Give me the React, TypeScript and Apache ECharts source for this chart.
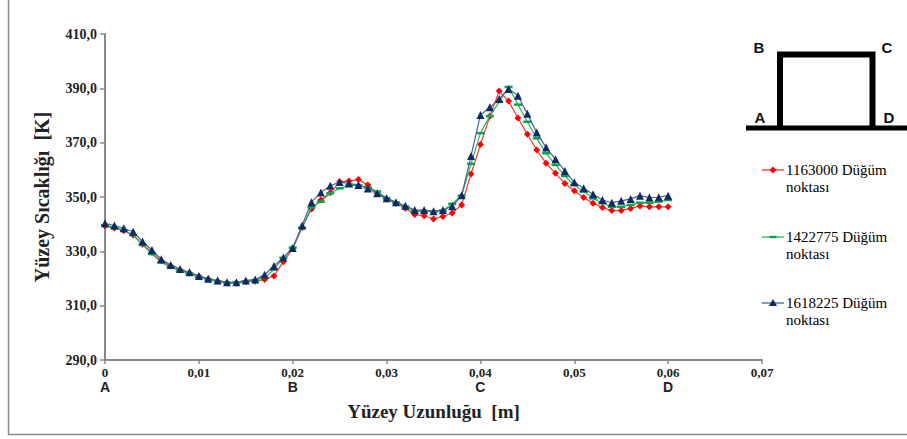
import React, { useEffect, useRef } from "react";
import * as echarts from "echarts";

const xs = [
  0, 0.001, 0.002, 0.003, 0.004, 0.005, 0.006, 0.007, 0.008, 0.009,
  0.01, 0.011, 0.012, 0.013, 0.014, 0.015, 0.016, 0.017, 0.018, 0.019,
  0.02, 0.021, 0.022, 0.023, 0.024, 0.025, 0.026, 0.027, 0.028, 0.029,
  0.03, 0.031, 0.032, 0.033, 0.034, 0.035, 0.036, 0.037, 0.038, 0.039,
  0.04, 0.041, 0.042, 0.043, 0.044, 0.045, 0.046, 0.047, 0.048, 0.049,
  0.05, 0.051, 0.052, 0.053, 0.054, 0.055, 0.056, 0.057, 0.058, 0.059,
  0.06,
];

const redValues = [
  339.3, 338.6, 337.6, 336.0, 332.6, 329.6, 326.4, 324.6, 323.1, 322.0,
  320.8, 319.8, 319.0, 318.3, 318.3, 318.8, 319.0, 319.6, 320.9, 326.2,
  331.0, 338.8, 345.6, 348.9, 351.6, 355.6, 355.9, 356.4, 354.4, 351.4,
  349.2, 347.7, 345.9, 343.6, 343.1, 341.9, 342.8, 344.1, 347.1, 358.5,
  369.3, 379.7, 389.0, 385.3, 379.1, 373.1, 367.3, 362.4, 358.7, 355.0,
  352.3, 349.8, 347.7, 346.1, 345.0, 345.0, 345.8, 346.7, 346.4, 346.4,
  346.4,
];

const greenValues = [
  339.6, 338.8, 337.8, 336.0, 332.4, 329.0, 325.9, 324.2, 322.9, 321.8,
  320.6, 319.6, 319.0, 318.5, 318.5, 319.0, 319.4, 320.3, 323.3, 327.6,
  331.4, 338.6, 346.2, 348.3, 351.4, 353.2, 354.2, 354.4, 353.5, 352.0,
  349.6, 348.0, 346.5, 344.8, 344.8, 344.6, 345.0, 347.5, 350.5, 362.2,
  373.5, 379.8, 385.0, 390.5, 384.0, 377.7, 371.6, 366.1, 361.8, 357.7,
  354.4, 352.0, 349.5, 347.7, 346.4, 346.4, 347.1, 347.9, 347.9, 348.3,
  348.9,
];

const blueValues = [
  340.3, 339.5, 338.5, 337.2, 333.6, 330.5, 327.1, 325.0, 323.5, 322.3,
  320.9, 319.9, 319.3, 318.6, 318.6, 319.3, 319.6, 321.4, 324.6, 327.7,
  331.2, 339.5, 348.1, 351.7, 354.1, 355.5, 355.0, 354.4, 353.1, 351.4,
  349.5, 348.1, 346.8, 345.2, 345.2, 344.8, 345.2, 346.6, 350.6, 365.1,
  380.2, 383.0, 386.1, 389.8, 387.3, 380.6, 373.7, 368.2, 363.9, 359.6,
  355.4, 353.2, 351.0, 348.9, 347.9, 348.6, 349.3, 350.5, 349.8, 349.9,
  350.5,
];

const seriesNames = ["1163000 Düğüm noktası", "1422775 Düğüm noktası", "1618225 Düğüm noktası"];
const legendLines = [
  ["1163000 Düğüm", "noktası"],
  ["1422775 Düğüm", "noktası"],
  ["1618225 Düğüm", "noktası"],
];
const letterTicks = [0, 0.02, 0.04, 0.06];
const letters = ["A", "B", "C", "D"];
const diagramLabels = ["A", "B", "C", "D"];

const SERIF = "Liberation Serif, Times New Roman, serif";
const SANS = "Liberation Sans, Arial, sans-serif";

export default function App() {
  const ref = useRef<HTMLDivElement>(null);
  useEffect(() => {
    if (!ref.current) return;
    const chart = echarts.init(ref.current, undefined, { renderer: "svg" });

    const mk = (vals: number[]) => xs.map((x, i) => [x, vals[i]]);

    const colors = {
      red: { line: "#ff3030", sym: "#ff0000" },
      green: { line: "#2fb35a", sym: "#00a84a" },
      blue: { line: "#4a6292", sym: "#0d2a66" },
    };

    const legendY = [170, 237, 303];
    const legendGraphics: any[] = [];
    const lc = [colors.red, colors.green, colors.blue];
    legendY.forEach((y, i) => {
      legendGraphics.push({
        type: "line",
        shape: { x1: 762, y1: y, x2: 784, y2: y },
        style: { stroke: lc[i].line, lineWidth: 1.3 },
      });
      if (i === 0) {
        legendGraphics.push({
          type: "polygon",
          shape: { points: [[773, y - 3.5], [776.5, y], [773, y + 3.5], [769.5, y]] },
          style: { fill: lc[i].sym },
        });
      } else if (i === 1) {
        legendGraphics.push({
          type: "rect",
          shape: { x: 769.5, y: y - 1.2, width: 7, height: 2.4 },
          style: { fill: lc[i].sym },
        });
      } else {
        legendGraphics.push({
          type: "polygon",
          shape: { points: [[773, y - 4], [777, y + 3], [769, y + 3]] },
          style: { fill: lc[i].sym },
        });
      }
    });

    const legendTitles = legendY.map((y, i) => ({
      text: legendLines[i].join("\n"),
      left: 786,
      top: y - 9,
      padding: 0,
      textStyle: {
        fontFamily: SERIF,
        fontSize: 15,
        fontWeight: "normal",
        lineHeight: 17,
        color: "#000",
      },
    }));

    const diagram: any[] = [
      {
        type: "line",
        shape: { x1: 746, y1: 128, x2: 907, y2: 128 },
        style: { stroke: "#000", lineWidth: 5 },
      },
      {
        type: "polyline",
        shape: { points: [[780, 128], [780, 54.5], [872.5, 54.5], [872.5, 128]] },
        style: { stroke: "#000", lineWidth: 6, fill: null, lineJoin: "miter" },
      },
    ];
    const labelPos = [
      [760, 117],
      [759, 47],
      [887, 47],
      [889, 117],
    ];
    diagramLabels.forEach((t, i) => {
      diagram.push({
        type: "text",
        x: labelPos[i][0],
        y: labelPos[i][1],
        style: {
          text: t,
          fontFamily: SANS,
          fontWeight: "bold",
          fontSize: 15,
          fill: "#111",
          align: "center",
          verticalAlign: "middle",
        },
      });
    });

    const border: any[] = [
      {
        type: "polyline",
        shape: { points: [[8.5, 0], [8.5, 434.5], [907, 434.5]] },
        style: { stroke: "#8a8a8a", lineWidth: 1.5, fill: null },
      },
    ];

    chart.setOption({
      animation: false,
      backgroundColor: "#fff",
      title: legendTitles,
      grid: { left: 105, right: 145, top: 34, bottom: 79, containLabel: false },
      xAxis: {
        type: "value",
        min: 0,
        max: 0.07,
        interval: 0.01,
        name: "Yüzey Uzunluğu  [m]",
        nameLocation: "middle",
        nameGap: 42,
        nameTextStyle: { fontFamily: SERIF, fontWeight: "bold", fontSize: 19, color: "#222" },
        axisLine: { show: true, lineStyle: { color: "#888", width: 2 } },
        axisTick: { show: true, length: 4, lineStyle: { color: "#888", width: 1.5 } },
        splitLine: { show: false },
        axisLabel: {
          margin: 5,
          formatter: (v: number) => {
            const s = Math.abs(v) < 1e-9 ? "0" : v.toFixed(2).replace(".", ",");
            const idx = letterTicks.findIndex((t) => Math.abs(t - v) < 1e-9);
            return idx >= 0 ? `{n|${s}}\n{l|${letters[idx]}}` : `{n|${s}}`;
          },
          rich: {
            n: { fontFamily: SERIF, fontWeight: "bold", fontSize: 13, color: "#222", lineHeight: 15 },
            l: { fontFamily: SANS, fontWeight: "bold", fontSize: 14, color: "#222", lineHeight: 14 },
          },
        },
      },
      yAxis: {
        type: "value",
        min: 290,
        max: 410,
        interval: 20,
        name: "Yüzey Sıcaklığı  [K]",
        nameLocation: "middle",
        nameGap: 53,
        nameTextStyle: { fontFamily: SERIF, fontWeight: "bold", fontSize: 20, color: "#222" },
        axisLine: { show: true, lineStyle: { color: "#888", width: 2 } },
        axisTick: { show: true, length: 5, lineStyle: { color: "#888", width: 1.5 } },
        splitLine: { show: false },
        axisLabel: {
          margin: 8,
          fontFamily: SERIF,
          fontWeight: "bold",
          fontSize: 14,
          color: "#222",
          formatter: (v: number) => v.toFixed(1).replace(".", ","),
        },
      },
      series: [
        {
          name: seriesNames[0],
          type: "line",
          data: mk(redValues),
          symbol: "diamond",
          symbolSize: 7,
          lineStyle: { color: colors.red.line, width: 1.2 },
          itemStyle: { color: colors.red.sym },
          z: 2,
        },
        {
          name: seriesNames[1],
          type: "line",
          data: mk(greenValues),
          symbol: "rect",
          symbolSize: [8, 2.5],
          lineStyle: { color: colors.green.line, width: 1.2 },
          itemStyle: { color: colors.green.sym },
          z: 3,
        },
        {
          name: seriesNames[2],
          type: "line",
          data: mk(blueValues),
          symbol: "triangle",
          symbolSize: 8,
          lineStyle: { color: colors.blue.line, width: 1.2 },
          itemStyle: { color: colors.blue.sym },
          z: 4,
        },
      ],
      graphic: [...border, ...diagram, ...legendGraphics],
    });

    return () => chart.dispose();
  }, []);

  return (
    <div
      ref={ref}
      style={{ position: "absolute", left: 0, top: 0, width: 907, height: 439, background: "#fff" }}
    />
  );
}
